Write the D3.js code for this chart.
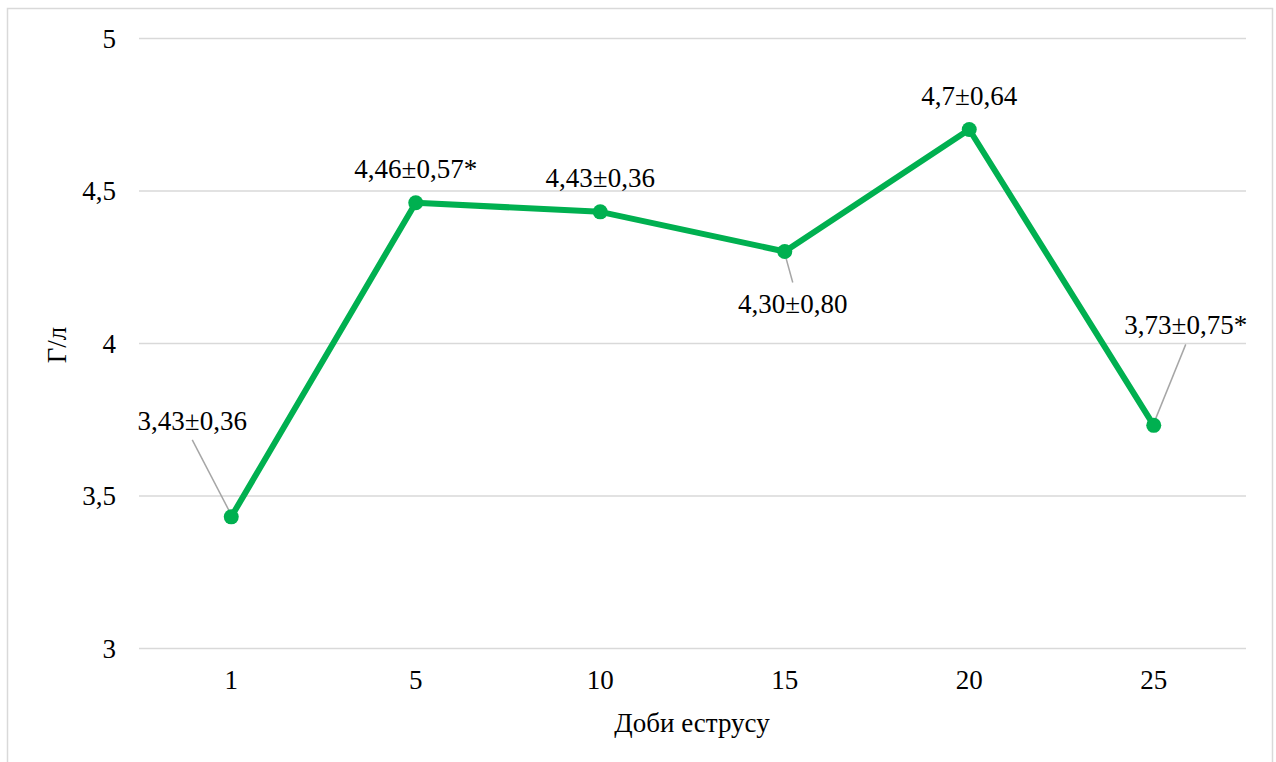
<!DOCTYPE html>
<html><head><meta charset="utf-8">
<script src="https://cdn.jsdelivr.net/npm/d3@7"></script>
<style>html,body{margin:0;padding:0;background:#fff;}svg{display:block;}</style>
</head><body>
<svg id="chart" width="1276" height="762"></svg>
<script>
const categories = ["1", "5", "10", "15", "20", "25"];
const values = [3.43, 4.46, 4.43, 4.30, 4.70, 3.73];
const labels = ["3,43±0,36", "4,46±0,57*", "4,43±0,36", "4,30±0,80", "4,7±0,64", "3,73±0,75*"];
const yTicks = [3, 3.5, 4, 4.5, 5];
const yTickLabels = ["3", "3,5", "4", "4,5", "5"];
const xTitle = "Доби еструсу";
const yTitle = "Г/л";
// label offsets relative to point (dx, dy of baseline) and whether a leader line is drawn
const labelPos = [
  {dx: -39, dy: -87, leader: true},
  {dx: 0, dy: -25, leader: false},
  {dx: 0, dy: -25, leader: false},
  {dx: 8, dy: 61, leader: true, below: true},
  {dx: 0, dy: -25, leader: false},
  {dx: 32, dy: -91, leader: true}
];

const svg = d3.select("#chart");
const font = "Liberation Serif, Times New Roman, serif";
const fs = 27;

svg.append("rect").attr("x", 7.5).attr("y", 8.5).attr("width", 1265).attr("height", 770)
  .attr("fill", "#fff").attr("stroke", "#d9d9d9").attr("stroke-width", 1.5);

const x = d3.scaleBand().domain(categories).range([139, 1246]);
const y = d3.scaleLinear().domain([3, 5]).range([648, 38]);

// gridlines
const gridAxis = d3.axisLeft(y).tickValues(yTicks).tickSize(-(1246 - 139)).tickFormat("");
const g = svg.append("g").attr("transform", "translate(139,0)").call(gridAxis);
g.select(".domain").remove();
g.selectAll(".tick line").attr("stroke", "#d9d9d9").attr("stroke-width", 1.5);

// y tick labels
const yAx = svg.append("g").attr("transform", "translate(139,0)")
  .call(d3.axisLeft(y).tickValues(yTicks).tickSize(0).tickPadding(23)
    .tickFormat((d) => yTickLabels[yTicks.indexOf(d)]));
yAx.select(".domain").remove();
yAx.selectAll("text").attr("font-family", font).attr("font-size", fs).attr("fill", "#000").attr("dy", "0.35em");

// x tick labels
const xAx = svg.append("g").attr("transform", "translate(0,648)")
  .call(d3.axisBottom(x).tickSize(0).tickPadding(22));
xAx.select(".domain").remove();
xAx.selectAll("text").attr("font-family", font).attr("font-size", fs).attr("fill", "#000").attr("dy", "0.71em");

const cx = (d, i) => x(categories[i]) + x.bandwidth() / 2;

// leader lines
values.forEach((v, i) => {
  const p = labelPos[i];
  if (!p.leader) return;
  const px = cx(null, i), py = y(v);
  const lx = px + p.dx;
  const ly = p.below ? py + p.dy - 30 : py + p.dy + 10;
  svg.append("line").attr("x1", lx).attr("y1", ly).attr("x2", px).attr("y2", py + (p.below ? 2 : -2))
    .attr("stroke", "#a6a6a6").attr("stroke-width", 1.5);
});

// line
svg.append("path").datum(values)
  .attr("d", d3.line().x((d, i) => cx(d, i)).y(d => y(d)))
  .attr("fill", "none").attr("stroke", "#00b050").attr("stroke-width", 6).attr("stroke-linejoin", "round");

svg.selectAll("circle.pt").data(values).enter().append("circle")
  .attr("class", "pt").attr("cx", (d, i) => cx(d, i)).attr("cy", d => y(d)).attr("r", 7.5)
  .attr("fill", "#00b050");

// data labels
svg.selectAll("text.lbl").data(values).enter().append("text")
  .attr("class", "lbl")
  .attr("x", (d, i) => cx(d, i) + labelPos[i].dx)
  .attr("y", (d, i) => y(d) + labelPos[i].dy)
  .attr("text-anchor", "middle").attr("font-family", font).attr("font-size", fs).attr("fill", "#000")
  .text((d, i) => labels[i]);

// axis titles
svg.append("text").attr("x", 692).attr("y", 732).attr("text-anchor", "middle")
  .attr("font-family", font).attr("font-size", fs).attr("fill", "#000").text(xTitle);
svg.append("text").attr("transform", "translate(66,345) rotate(-90)").attr("text-anchor", "middle")
  .attr("font-family", font).attr("font-size", fs).attr("fill", "#000").text(yTitle);
</script>
</body></html>
